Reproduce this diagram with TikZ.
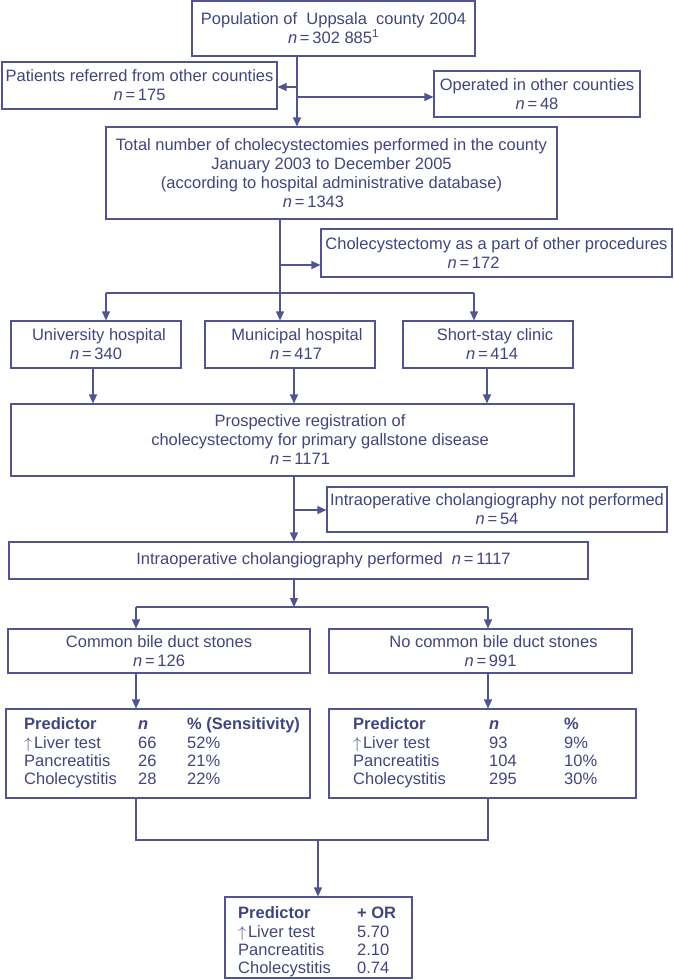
\documentclass[tikz,border=0pt]{standalone}
\usepackage{fontspec}
\setmainfont{Liberation Sans}
\usetikzlibrary{arrows.meta}
\definecolor{linec}{RGB}{82,84,142}
\definecolor{textc}{RGB}{66,68,124}
\newcommand{\nEq}{\textit{n}\hspace{0.17em}=\hspace{0.17em}}
\newcommand{\upar}{\scalebox{0.95}[0.9]{$\uparrow$}\hspace{0.1em}}
\begin{document}
\begin{tikzpicture}[x=1pt,y=-1pt,
  box/.style={draw=linec, line width=1.1pt, inner sep=0pt, text=textc, align=center,
    font=\fontsize{16.5}{19}\selectfont},
  arr/.style={draw=linec, line width=1.2pt, -{Triangle[length=9pt,width=8pt]}},
  ln/.style={draw=linec, line width=1.2pt},
  tab/.style={inner sep=0pt, text=textc, anchor=base west, font=\fontsize{16.5}{18}\selectfont}]
\useasboundingbox (0,0) rectangle (673,980);

% boxes
\node[box, minimum width=283pt, minimum height=55pt] (pop) at (333.5,28.5)
  {Population of\ \ Uppsala\ \ county 2004\\ \nEq 302 885\textsuperscript{1}};
\node[box, minimum width=275pt, minimum height=47pt] (pat) at (139.5,85.5)
  {Patients referred from other counties\\ \nEq 175};
\node[box, minimum width=206pt, minimum height=46pt] (op) at (537,94)
  {Operated in other counties\\ \nEq 48};
\node[box, minimum width=451pt, minimum height=92pt] (tot) at (331.5,173)
  {Total number of cholecystectomies performed in the county\\
   January 2003 to December 2005\\
   (according to hospital administrative database)\\
   \hspace*{-36pt}\nEq 1343};
\node[box, minimum width=351pt, minimum height=48pt] (chp) at (496.5,253)
  {Cholecystectomy as a part of other procedures\\ \hspace*{-46pt}\nEq 172};
\node[box, minimum width=170pt, minimum height=47pt] (uni) at (96,344.5)
  {\hspace*{6pt}University hospital\\ \nEq 340};
\node[box, minimum width=170pt, minimum height=47pt] (mun) at (290,344.5)
  {\hspace*{14pt}Municipal hospital\\ \hspace*{12pt}\nEq 417};
\node[box, minimum width=170pt, minimum height=47pt] (sst) at (488,344.5)
  {\hspace*{14pt}Short-stay clinic\\ \hspace*{8pt}\nEq 414};
\node[box, minimum width=563pt, minimum height=72pt] (pro) at (292.5,440)
  {\hspace*{35pt}Prospective registration of\\
   \hspace*{55pt}cholecystectomy for primary gallstone disease\\
   \hspace*{15pt}\nEq 1171};
\node[box, minimum width=340pt, minimum height=45pt] (nop) at (497,509.5)
  {Intraoperative cholangiography not performed\\ \nEq 54};
\node[box, minimum width=579pt, minimum height=37pt] (per) at (298.5,560.5)
  {\hspace*{50pt}Intraoperative cholangiography performed\ \ \nEq 1117};
\node[box, minimum width=302pt, minimum height=44pt] (cbd) at (159,651)
  {Common bile duct stones\\ \nEq 126};
\node[box, minimum width=303pt, minimum height=44pt] (ncb) at (480.5,651)
  {\hspace*{26pt}No common bile duct stones\\ \hspace*{20pt}\nEq 991};
\node[box, minimum width=304pt, minimum height=89pt] (pl) at (158,753.5) {};
\node[box, minimum width=307pt, minimum height=89pt] (pr) at (482.5,753.5) {};
\node[box, minimum width=187pt, minimum height=81pt] (bot) at (318.5,937.5) {};

% tables
\node[tab] (tl) at (24,729) {\begin{tabular}[t]{@{}p{114pt}@{}p{49pt}@{}l@{}}
  \textbf{Predictor} & \textbf{\textit{n}} & \textbf{\% (Sensitivity)}\\[1.5pt]
  \upar Liver test & 66 & 52\%\\
  Pancreatitis & 26 & 21\%\\
  Cholecystitis & 28 & 22\%
  \end{tabular}};
\node[tab] (tr) at (353,729) {\begin{tabular}[t]{@{}p{136pt}@{}p{75pt}@{}l@{}}
  \textbf{Predictor} & \textbf{\textit{n}} & \textbf{\%}\\[1.5pt]
  \upar Liver test & 93 & 9\%\\
  Pancreatitis & 104 & 10\%\\
  Cholecystitis & 295 & 30\%
  \end{tabular}};
\node[tab] (tb) at (238,918) {\begin{tabular}[t]{@{}p{119pt}@{}l@{}}
  \textbf{Predictor} & \textbf{+ OR}\\[1pt]
  \upar Liver test & 5.70\\
  Pancreatitis & 2.10\\
  Cholecystitis & 0.74
  \end{tabular}};

% connectors
\coordinate (ka) at (297,87);
\coordinate (kb) at (297,97);
\draw[arr] (pop.south -| ka) -- (tot.north -| ka);
\draw[arr] (ka) -- (ka -| pat.east);
\draw[arr] (kb) -- (kb -| op.west);

\coordinate (kc) at (280,265);
\coordinate (ke) at (106,293);
\coordinate (kf) at (474,293);
\draw[arr] (tot.south -| kc) -- (mun.north -| kc);
\draw[arr] (kc) -- (kc -| chp.west);
\draw[ln] (ke) -- (kf);
\draw[arr] (ke) -- (ke |- uni.north);
\draw[arr] (kf) -- (kf |- sst.north);

\coordinate (kg) at (93,0);
\coordinate (kh) at (294,0);
\coordinate (ki) at (487,0);
\draw[arr] (uni.south -| kg) -- (pro.north -| kg);
\draw[arr] (mun.south -| kh) -- (pro.north -| kh);
\draw[arr] (sst.south -| ki) -- (pro.north -| ki);

\coordinate (kj) at (294,510);
\draw[arr] (pro.south -| kj) -- (per.north -| kj);
\draw[arr] (kj) -- (kj -| nop.west);

\coordinate (kk) at (294,607);
\coordinate (kl) at (136,607);
\coordinate (km) at (488,607);
\draw[arr] (per.south -| kk) -- (kk);
\draw[ln] (kl) -- (km);
\draw[arr] (kl) -- (kl |- cbd.north);
\draw[arr] (km) -- (km |- ncb.north);
\draw[arr] (cbd.south -| kl) -- (pl.north -| kl);
\draw[arr] (ncb.south -| km) -- (pr.north -| km);

\coordinate (kn) at (136,840);
\coordinate (ko) at (488,840);
\coordinate (kp) at (318,840);
\draw[ln] (pl.south -| kn) -- (kn) -- (ko) -- (pr.south -| ko);
\draw[arr] (kp) -- (kp |- bot.north);
\end{tikzpicture}
\end{document}
